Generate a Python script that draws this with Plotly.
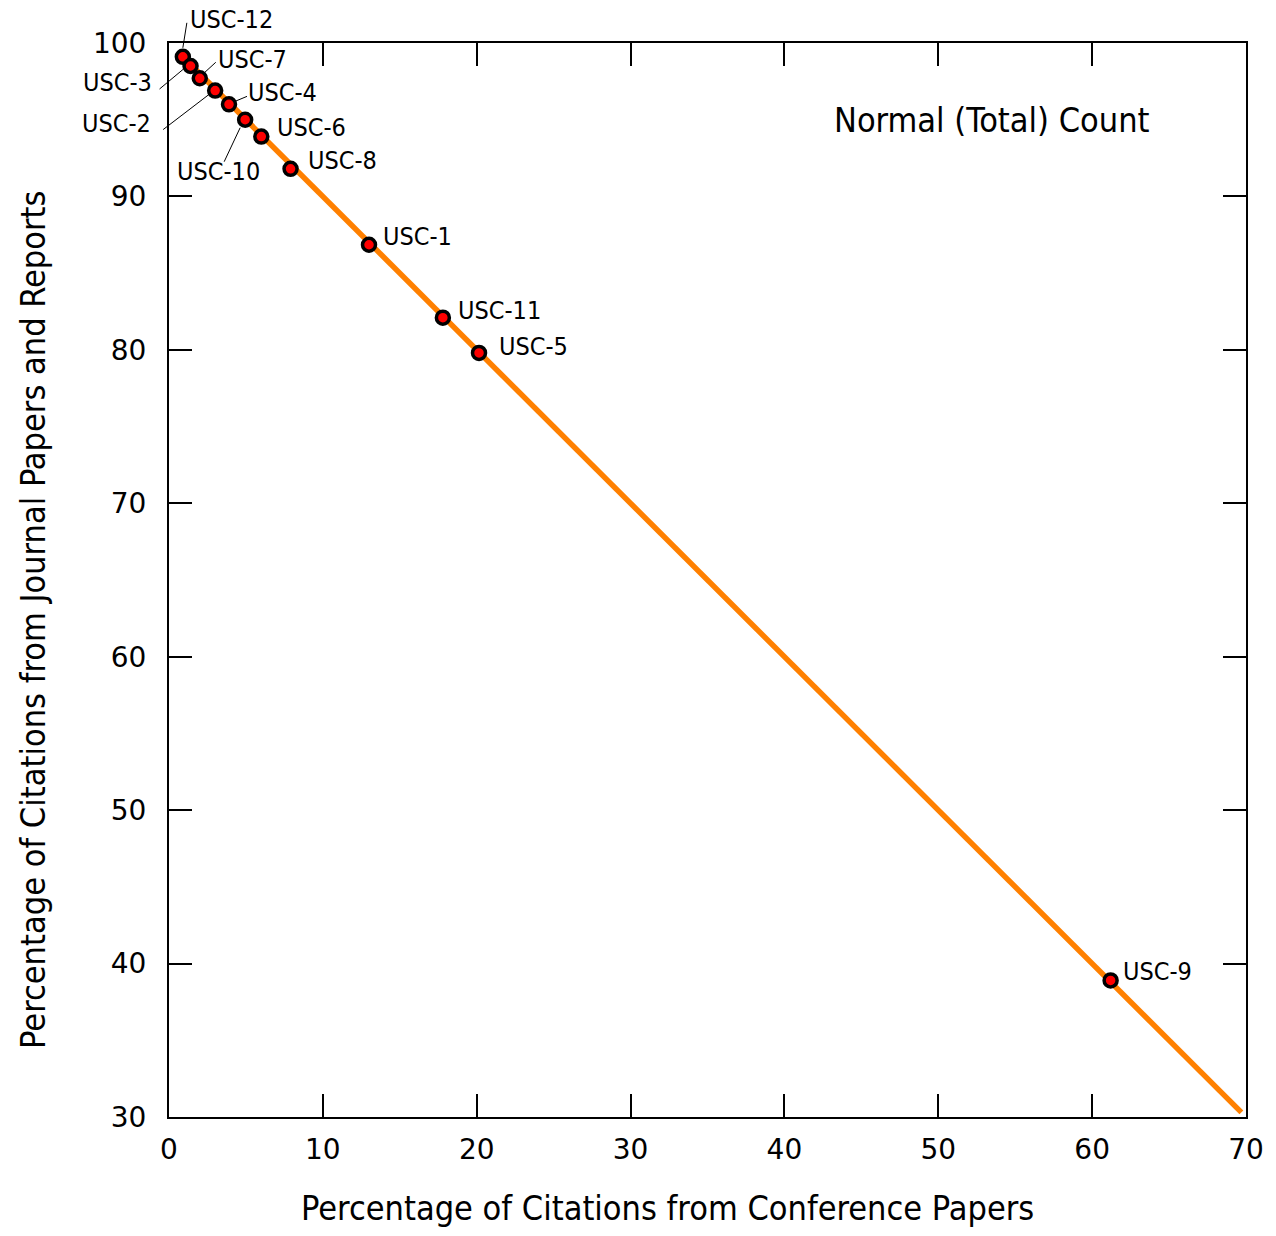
import plotly.graph_objects as go

# ---- data ----
labels = ["USC-12", "USC-3", "USC-7", "USC-2", "USC-4", "USC-10",
          "USC-6", "USC-8", "USC-1", "USC-11", "USC-5", "USC-9"]
conf_pct = [0.9, 1.4, 2.0, 3.0, 3.9, 4.95, 6.0, 7.9, 13.0, 17.8, 20.15, 61.2]
journal_pct = [99.1, 98.5, 97.7, 96.9, 96.0, 95.0, 93.9, 91.8, 86.85, 82.1, 79.8, 38.9]
fit_x = [0.9, 69.7]
fit_y = [99.1, 30.3]
x_ticks = [0, 10, 20, 30, 40, 50, 60, 70]
y_ticks = [30, 40, 50, 60, 70, 80, 90, 100]
x_range = [0, 70]
y_range = [30, 100]

# ---- label layout (pixel offsets from each point) ----
# (text dx, text dy (down +), anchor, leader start (dx,dy) or None, leader end (dx,dy))
label_layout = {
    "USC-12": (5, -37, "left", (4, -34), (0, -9)),
    "USC-3": (-37, 16, "right", (-31, 23), (-7, 3)),
    "USC-7": (16, -19, "left", (16, -16), (4, -5)),
    "USC-2": (-62, 33, "right", (-52, 39), (-5, 3)),
    "USC-4": (17, -12, "left", (18, -8), (6, -3)),
    "USC-10": (-70, 52, "left", (-21, 42), (-5, 8)),
    "USC-6": (14, -9, "left", None, None),
    "USC-8": (15, -8, "left", None, None),
    "USC-1": (12, -8, "left", None, None),
    "USC-11": (13, -7, "left", None, None),
    "USC-5": (18, -6, "left", None, None),
    "USC-9": (10, -9, "left", None, None),
}

NARROW = "Liberation Sans Narrow, DejaVu Sans Condensed, Roboto Condensed, Arial Narrow, Roboto, sans-serif"
TICKFONT = "DejaVu Sans"


def to_paper(v, rng):
    return (v - rng[0]) / (rng[1] - rng[0])


fig = go.Figure()
fig.add_trace(go.Scatter(x=fit_x, y=fit_y, mode="lines",
                         line=dict(color="#FF8000", width=5.5),
                         hoverinfo="skip", showlegend=False))
fig.add_trace(go.Scatter(x=conf_pct, y=journal_pct, mode="markers",
                         marker=dict(color="#FF0000", size=13,
                                     line=dict(color="black", width=3.5)),
                         text=labels, showlegend=False))

annotations = []
shapes = []
for lab, xv, yv in zip(labels, conf_pct, journal_pct):
    dx, dy, anc, s0, s1 = label_layout[lab]
    annotations.append(dict(x=xv, y=yv, xref="x", yref="y", text=lab,
                            showarrow=False, xanchor=anc, yanchor="middle",
                            xshift=dx, yshift=-dy,
                            font=dict(family=NARROW, size=25, color="black")))
    if s0 is not None:
        shapes.append(dict(type="line", xref="paper", yref="paper",
                           xsizemode="pixel", ysizemode="pixel",
                           xanchor=to_paper(xv, x_range),
                           yanchor=to_paper(yv, y_range),
                           x0=s0[0], y0=-s0[1], x1=s1[0], y1=-s1[1],
                           line=dict(color="black", width=1)))

annotations.append(dict(x=0.6156, y=0.9283, xref="paper", yref="paper",
                        text="Normal (Total) Count", showarrow=False,
                        xanchor="left", yanchor="middle",
                        font=dict(family=NARROW, size=34, color="black")))
# axis titles
annotations.append(dict(x=0.4629, y=-0.0847, xref="paper", yref="paper",
                        text="Percentage of Citations from Conference Papers",
                        showarrow=False, xanchor="center", yanchor="middle",
                        font=dict(family=NARROW, size=34, color="black")))
annotations.append(dict(x=-0.1263, y=0.4628, xref="paper", yref="paper",
                        text="Percentage of Citations from Journal Papers and Reports",
                        showarrow=False, xanchor="center", yanchor="middle",
                        textangle=-90,
                        font=dict(family=NARROW, size=34, color="black")))

fig.update_layout(
    width=1276, height=1236,
    margin=dict(l=169, r=30, t=43, b=119),
    paper_bgcolor="white", plot_bgcolor="white",
    annotations=annotations, shapes=shapes,
    xaxis=dict(range=x_range, tickvals=x_ticks, ticks="inside", ticklen=23,
               tickwidth=2, tickcolor="black", showline=True, linewidth=2,
               linecolor="black", mirror="allticks", showgrid=False,
               zeroline=False, ticklabelstandoff=6,
               tickfont=dict(family=TICKFONT, size=28, color="black")),
    yaxis=dict(range=y_range, tickvals=y_ticks, ticks="inside", ticklen=23,
               tickwidth=2, tickcolor="black", showline=True, linewidth=2,
               linecolor="black", mirror="allticks", showgrid=False,
               zeroline=False, ticklabelstandoff=15,
               tickfont=dict(family=TICKFONT, size=28, color="black")),
)

fig.write_html("out.html")
